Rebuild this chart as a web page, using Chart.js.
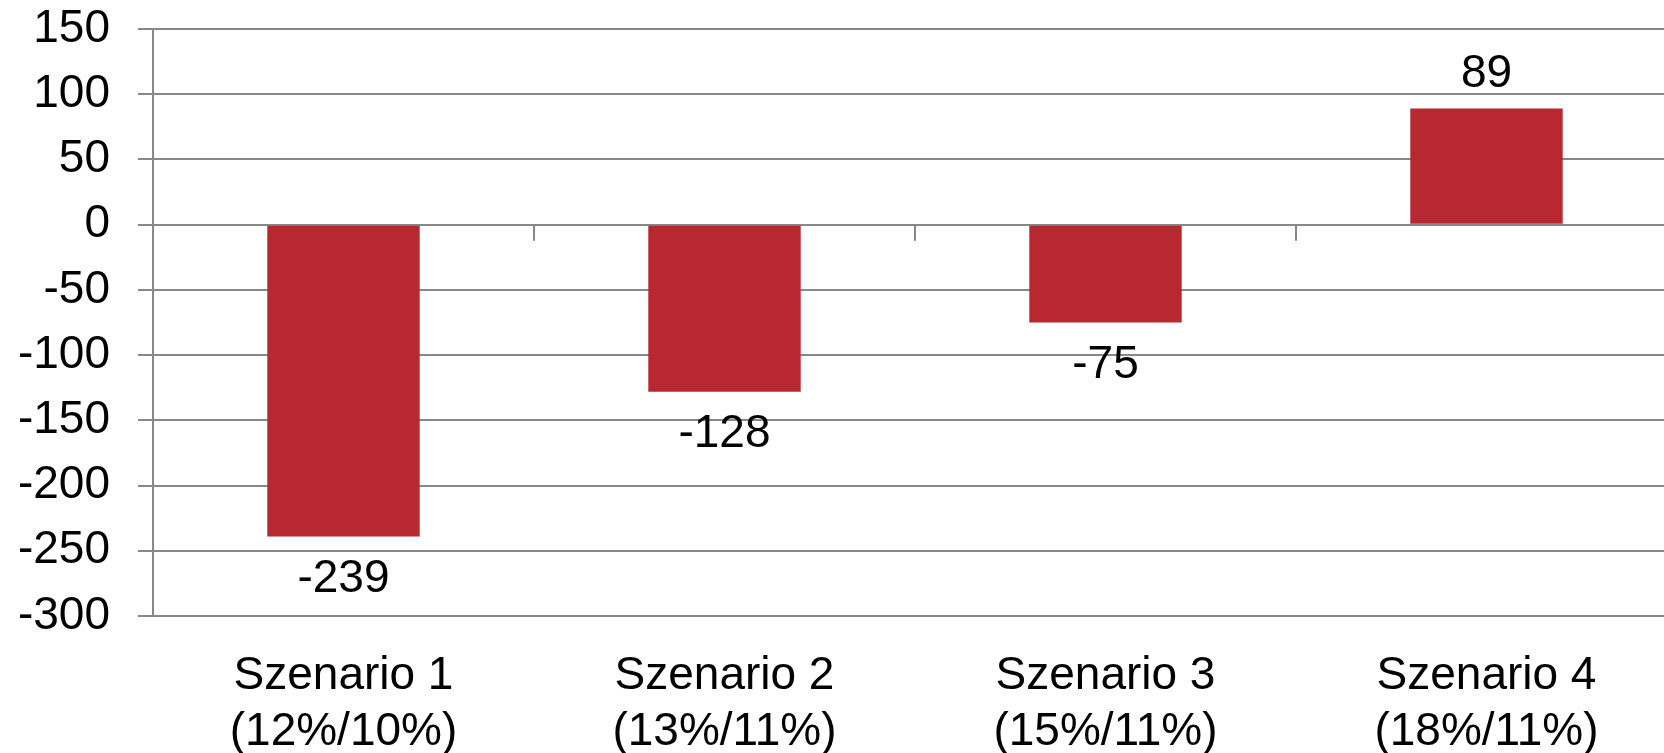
<!DOCTYPE html>
<html>
<head>
<meta charset="utf-8">
<script src="https://cdn.jsdelivr.net/npm/chart.js@4/dist/chart.umd.min.js"></script>
<style>
  html, body { margin: 0; padding: 0; background: #fff; overflow: hidden; }
  #wrap { width: 1677px; height: 753px; }
</style>
</head>
<body>
<div id="wrap"><canvas id="chart"></canvas></div>
<script>
const categories = [
  ["Szenario 1", "(12%/10%)"],
  ["Szenario 2", "(13%/11%)"],
  ["Szenario 3", "(15%/11%)"],
  ["Szenario 4", "(18%/11%)"]
];
const values = [-239, -128, -75, 89];
const yTicks = [150, 100, 50, 0, -50, -100, -150, -200, -250, -300];

const FONT = "'Liberation Sans', Arial, sans-serif";
const GRID = "#888888";
const SIZE = 46;

// value labels above / below the bars
const valueLabels = {
  id: "valueLabels",
  afterDatasetsDraw(chart) {
    const ctx = chart.ctx;
    const meta = chart.getDatasetMeta(0);
    ctx.save();
    ctx.font = SIZE + "px " + FONT;
    ctx.fillStyle = "#000";
    ctx.textAlign = "center";
    meta.data.forEach((bar, i) => {
      const v = values[i];
      if (v < 0) {
        ctx.textBaseline = "top";
        ctx.fillText(String(v), bar.x, bar.y + 20);
      } else {
        ctx.textBaseline = "alphabetic";
        ctx.fillText(String(v), bar.x, bar.y - 22);
      }
    });
    ctx.restore();
  }
};

// category tick marks on the zero line
const zeroTicks = {
  id: "zeroTicks",
  afterDraw(chart) {
    const ctx = chart.ctx;
    const x = chart.scales.x;
    const y0 = chart.scales.y.getPixelForValue(0);
    ctx.save();
    ctx.strokeStyle = GRID;
    ctx.lineWidth = 2;
    for (let i = 1; i < categories.length; i++) {
      const px = Math.round((x.getPixelForValue(i - 1) + x.getPixelForValue(i)) / 2);
      ctx.beginPath();
      ctx.moveTo(px, y0);
      ctx.lineTo(px, y0 + 16);
      ctx.stroke();
    }
    ctx.restore();
  }
};

new Chart(document.getElementById("chart"), {
  type: "bar",
  data: {
    labels: categories,
    datasets: [{
      data: values,
      backgroundColor: "#b72830",
      barPercentage: 0.4,
      categoryPercentage: 1
    }]
  },
  options: {
    responsive: true,
    maintainAspectRatio: false,
    animation: false,
    layout: { padding: { top: 29, right: 0, left: 0, bottom: 0 } },
    plugins: {
      legend: { display: false },
      tooltip: { enabled: false }
    },
    scales: {
      x: {
        grid: { display: false },
        border: { display: false },
        ticks: {
          color: "#000",
          font: { family: FONT, size: SIZE, lineHeight: 1.22 },
          padding: 24,
          maxRotation: 0
        },
        afterFit(scale) {
          scale.height = 137;
          scale.paddingLeft = 0;
          scale.paddingRight = 0;
        }
      },
      y: {
        min: -300,
        max: 150,
        afterBuildTicks(scale) { scale.ticks = yTicks.map(v => ({ value: v })); },
        grid: { color: GRID, lineWidth: 2, tickLength: 15 },
        border: { display: true, color: GRID, width: 2 },
        ticks: {
          color: "#000",
          font: { family: FONT, size: SIZE },
          padding: 28
        },
        afterFit(scale) {
          scale.width = 153;
          scale.paddingTop = 0;
          scale.paddingBottom = 0;
        }
      }
    }
  },
  plugins: [valueLabels, zeroTicks]
});
</script>
</body>
</html>
